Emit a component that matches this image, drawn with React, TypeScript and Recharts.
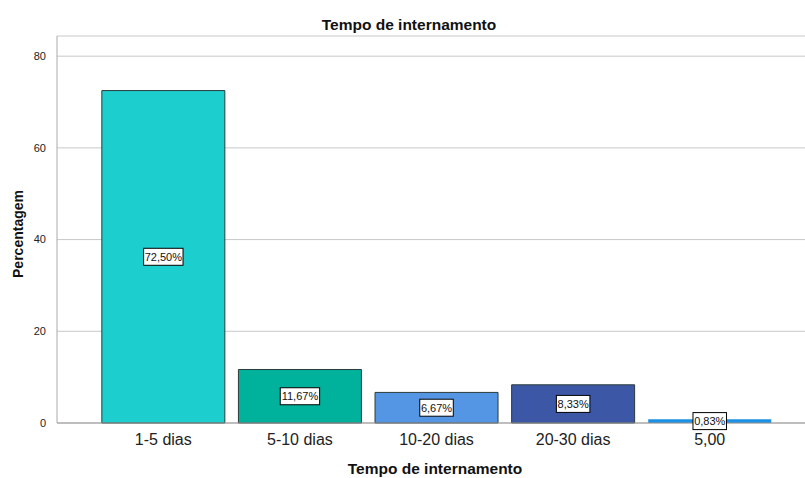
import React from 'react';
import { BarChart, Bar, XAxis, YAxis, CartesianGrid, Cell, LabelList } from 'recharts';

const categories = ['1-5 dias', '5-10 dias', '10-20 dias', '20-30 dias', '5,00'];
const percentages = [72.5, 11.67, 6.67, 8.33, 0.83];
const barColors = ['#1ccece', '#00b29c', '#5596e4', '#3b57a6', '#1c90e3'];
const barStrokes = ['#2b3b3b', '#2b3b3b', '#2b3b3b', '#2b3b3b', 'none'];
const yTicks = [0, 20, 40, 60, 80];

const data = categories.map((name, i) => ({ name, value: percentages[i] }));

const fmt = (v: number) => v.toFixed(2).replace('.', ',') + '%';

const BoxLabel = (props: any) => {
  const { x, y, width, height, value } = props;
  const cx = x + width / 2;
  const cy = y + height / 2;
  const text = fmt(value);
  const w = text.length * 5.9 + 4;
  return (
    <g>
      <rect x={cx - w / 2} y={cy - 8.5} width={w} height={17} fill="#fff" stroke="#000" strokeWidth={1} />
      <text x={cx} y={cy + 4} textAnchor="middle" fontSize={11} fill="#111" fontFamily="Liberation Sans, Arial, sans-serif">
        {text}
      </text>
    </g>
  );
};

export default function App() {
  return (
    <div style={{ position: 'absolute', left: 0, top: 0, width: 805, height: 478, background: '#fff', fontFamily: 'Liberation Sans, Arial, sans-serif' }}>
      <BarChart
        width={805}
        height={478}
        data={data}
        margin={{ top: 36, right: 0, left: 0, bottom: 0 }}
        barCategoryGap="5%"
      >
        <text x={409} y={30} textAnchor="middle" fontSize={15.5} fontWeight="bold" fill="#111">
          Tempo de internamento
        </text>
        <text x={435} y={474} textAnchor="middle" fontSize={15.5} fontWeight="bold" fill="#111">
          Tempo de internamento
        </text>
        <text
          x={18}
          y={234}
          transform="rotate(-90, 18, 234)"
          textAnchor="middle"
          dominantBaseline="central"
          fontSize={14}
          fontWeight="bold"
          fill="#111"
        >
          Percentagem
        </text>
        <CartesianGrid horizontal vertical={false} stroke="#c8c8c8" />
        <XAxis
          dataKey="name"
          height={55}
          padding={{ left: 38, right: 27 }}
          tickLine={false}
          tickSize={0}
          tickMargin={11}
          axisLine={{ stroke: '#999' }}
          tick={{ fontSize: 16, fill: '#222' }}
        />
        <YAxis
          width={57}
          domain={[0, 84.4]}
          ticks={yTicks}
          tickLine={false}
          axisLine={{ stroke: '#aaa' }}
          tick={{ fontSize: 11, fill: '#222' }}
          tickMargin={5}
        />
        <Bar dataKey="value" isAnimationActive={false}>
          {data.map((d, i) => (
            <Cell key={d.name} fill={barColors[i]} stroke={barStrokes[i]} strokeWidth={1} />
          ))}
          <LabelList dataKey="value" content={BoxLabel} />
        </Bar>
      </BarChart>
    </div>
  );
}
